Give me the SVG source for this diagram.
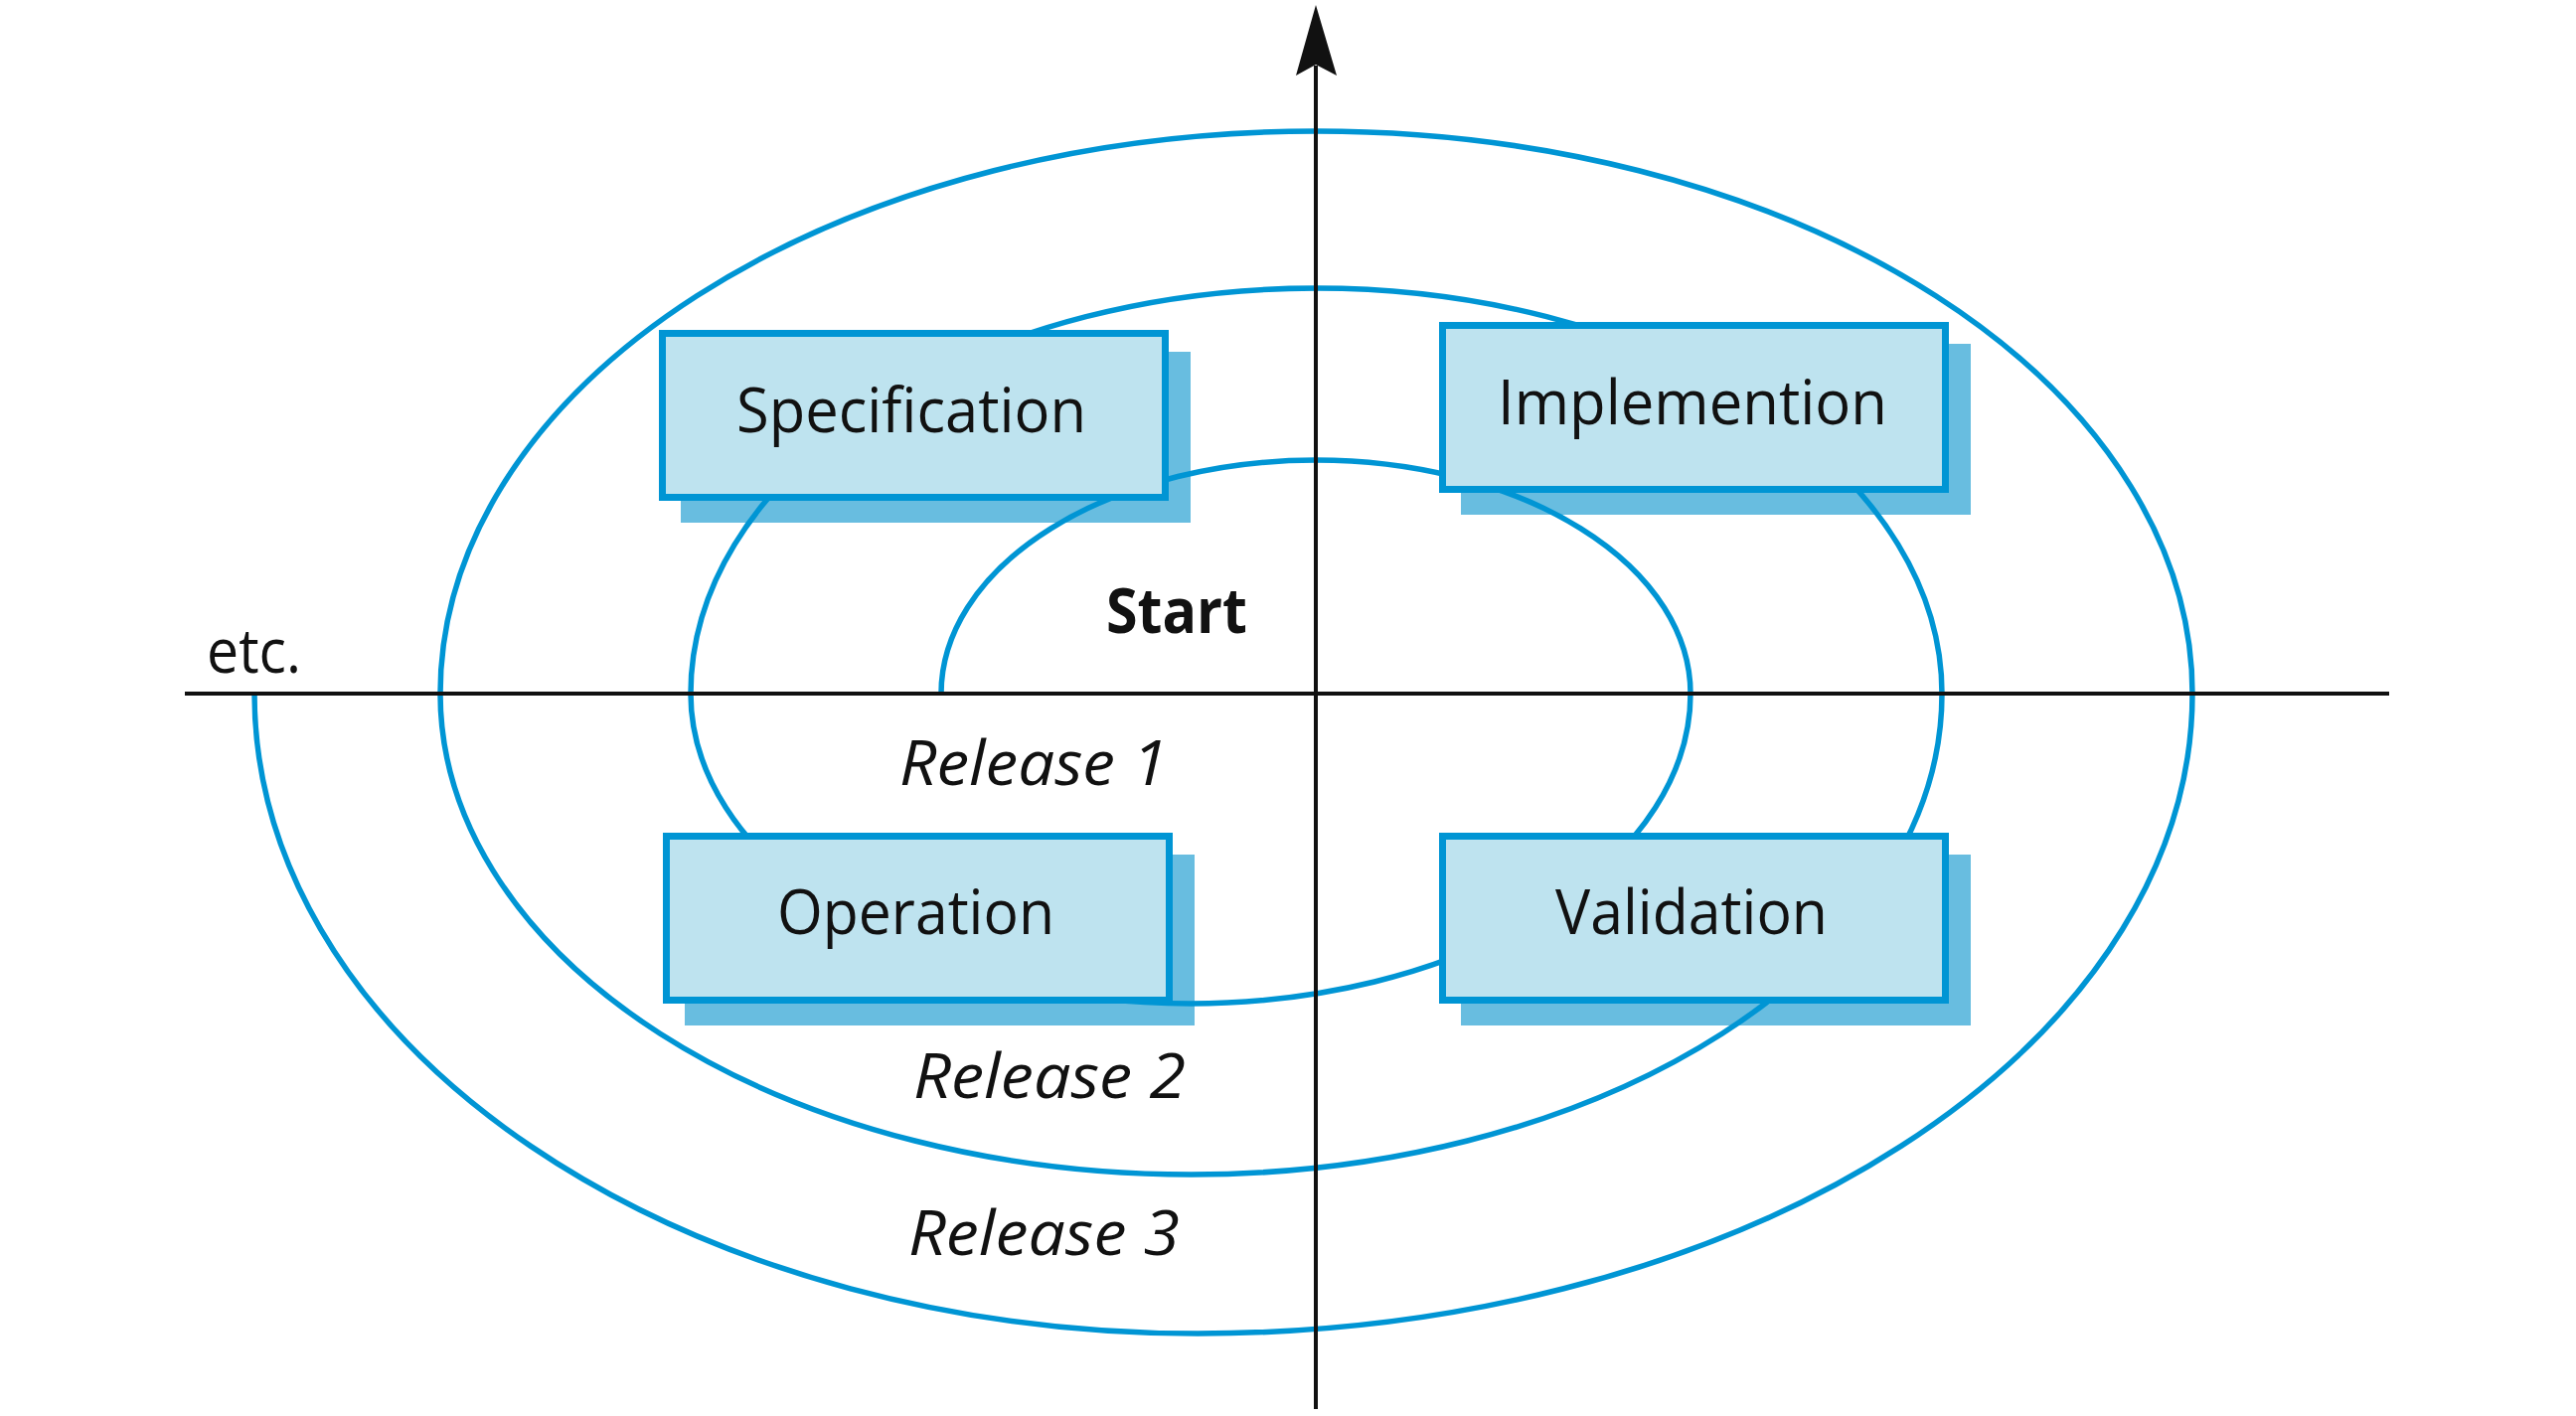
<svg xmlns="http://www.w3.org/2000/svg" width="2592" height="1425" viewBox="0 0 2592 1425">
  <style>
    .shadow { fill: #68BDE0; stroke: none; }
    .box { fill: #BEE3EF; stroke: #0095D4; stroke-width: 7; }
    .spiral { fill: none; stroke: #0095D4; stroke-width: 5.5; }
    .axis { fill: none; stroke: #111111; stroke-width: 4; }
    .label { font-family: "Open Sans", "Noto Sans", "Liberation Sans", sans-serif; font-size: 63px; fill: #111111; }
    .bold { font-weight: bold; }
    .ital { font-style: italic; }
  </style>
  <rect x="0" y="0" width="2592" height="1425" fill="#FFFFFF"/>

  <g id="shadows">
    <rect id="specification-shadow" class="shadow" x="685" y="354" width="513" height="172"/>
    <rect id="implemention-shadow" class="shadow" x="1470" y="346" width="513" height="172"/>
    <rect id="operation-shadow" class="shadow" x="689" y="860" width="513" height="172"/>
    <rect id="validation-shadow" class="shadow" x="1470" y="860" width="513" height="172"/>
  </g>

  <g id="connectors">
    <path id="spiral" class="spiral" d="M 947 698 A 377 235 0 0 1 1701 698 A 503 312 0 0 1 695 698 A 629.5 408 0 0 1 1954 698 A 755.5 484 0 0 1 443 698 A 881.5 566 0 0 1 2206 698 A 1001 644 0 0 1 1205 1342 A 949 644 0 0 1 256 698"/>
    <line id="h-axis" class="axis" x1="186" y1="698" x2="2404" y2="698"/>
    <line id="v-axis" class="axis" x1="1324" y1="66" x2="1324" y2="1418"/>
    <polygon id="v-axis-arrow" fill="#111111" points="1324,5 1345,76 1324,65 1304,76"/>
  </g>

  <g id="specification">
    <rect class="box" x="666.5" y="335.5" width="506" height="165"/>
    <text class="label" x="741" y="435" textLength="352" lengthAdjust="spacingAndGlyphs">Specification</text>
  </g>
  <g id="implemention">
    <rect class="box" x="1451.5" y="327.5" width="506" height="165"/>
    <text class="label" x="1507" y="427" textLength="392" lengthAdjust="spacingAndGlyphs">Implemention</text>
  </g>
  <g id="operation">
    <rect class="box" x="670.5" y="841.5" width="506" height="165"/>
    <text class="label" x="782" y="940" textLength="279" lengthAdjust="spacingAndGlyphs">Operation</text>
  </g>
  <g id="validation">
    <rect class="box" x="1451.5" y="841.5" width="506" height="165"/>
    <text class="label" x="1565" y="940" textLength="274" lengthAdjust="spacingAndGlyphs">Validation</text>
  </g>

  <g id="labels">
    <text id="start" class="label bold" x="1113" y="637" textLength="142" lengthAdjust="spacingAndGlyphs">Start</text>
    <text id="release1" class="label ital" x="905" y="790" textLength="270" lengthAdjust="spacingAndGlyphs">Release 1</text>
    <text id="release2" class="label ital" x="919" y="1105" textLength="274" lengthAdjust="spacingAndGlyphs">Release 2</text>
    <text id="release3" class="label ital" x="914" y="1263" textLength="273" lengthAdjust="spacingAndGlyphs">Release 3</text>
    <text id="etc" class="label" x="208" y="677" textLength="95" lengthAdjust="spacingAndGlyphs">etc.</text>
  </g>
</svg>
